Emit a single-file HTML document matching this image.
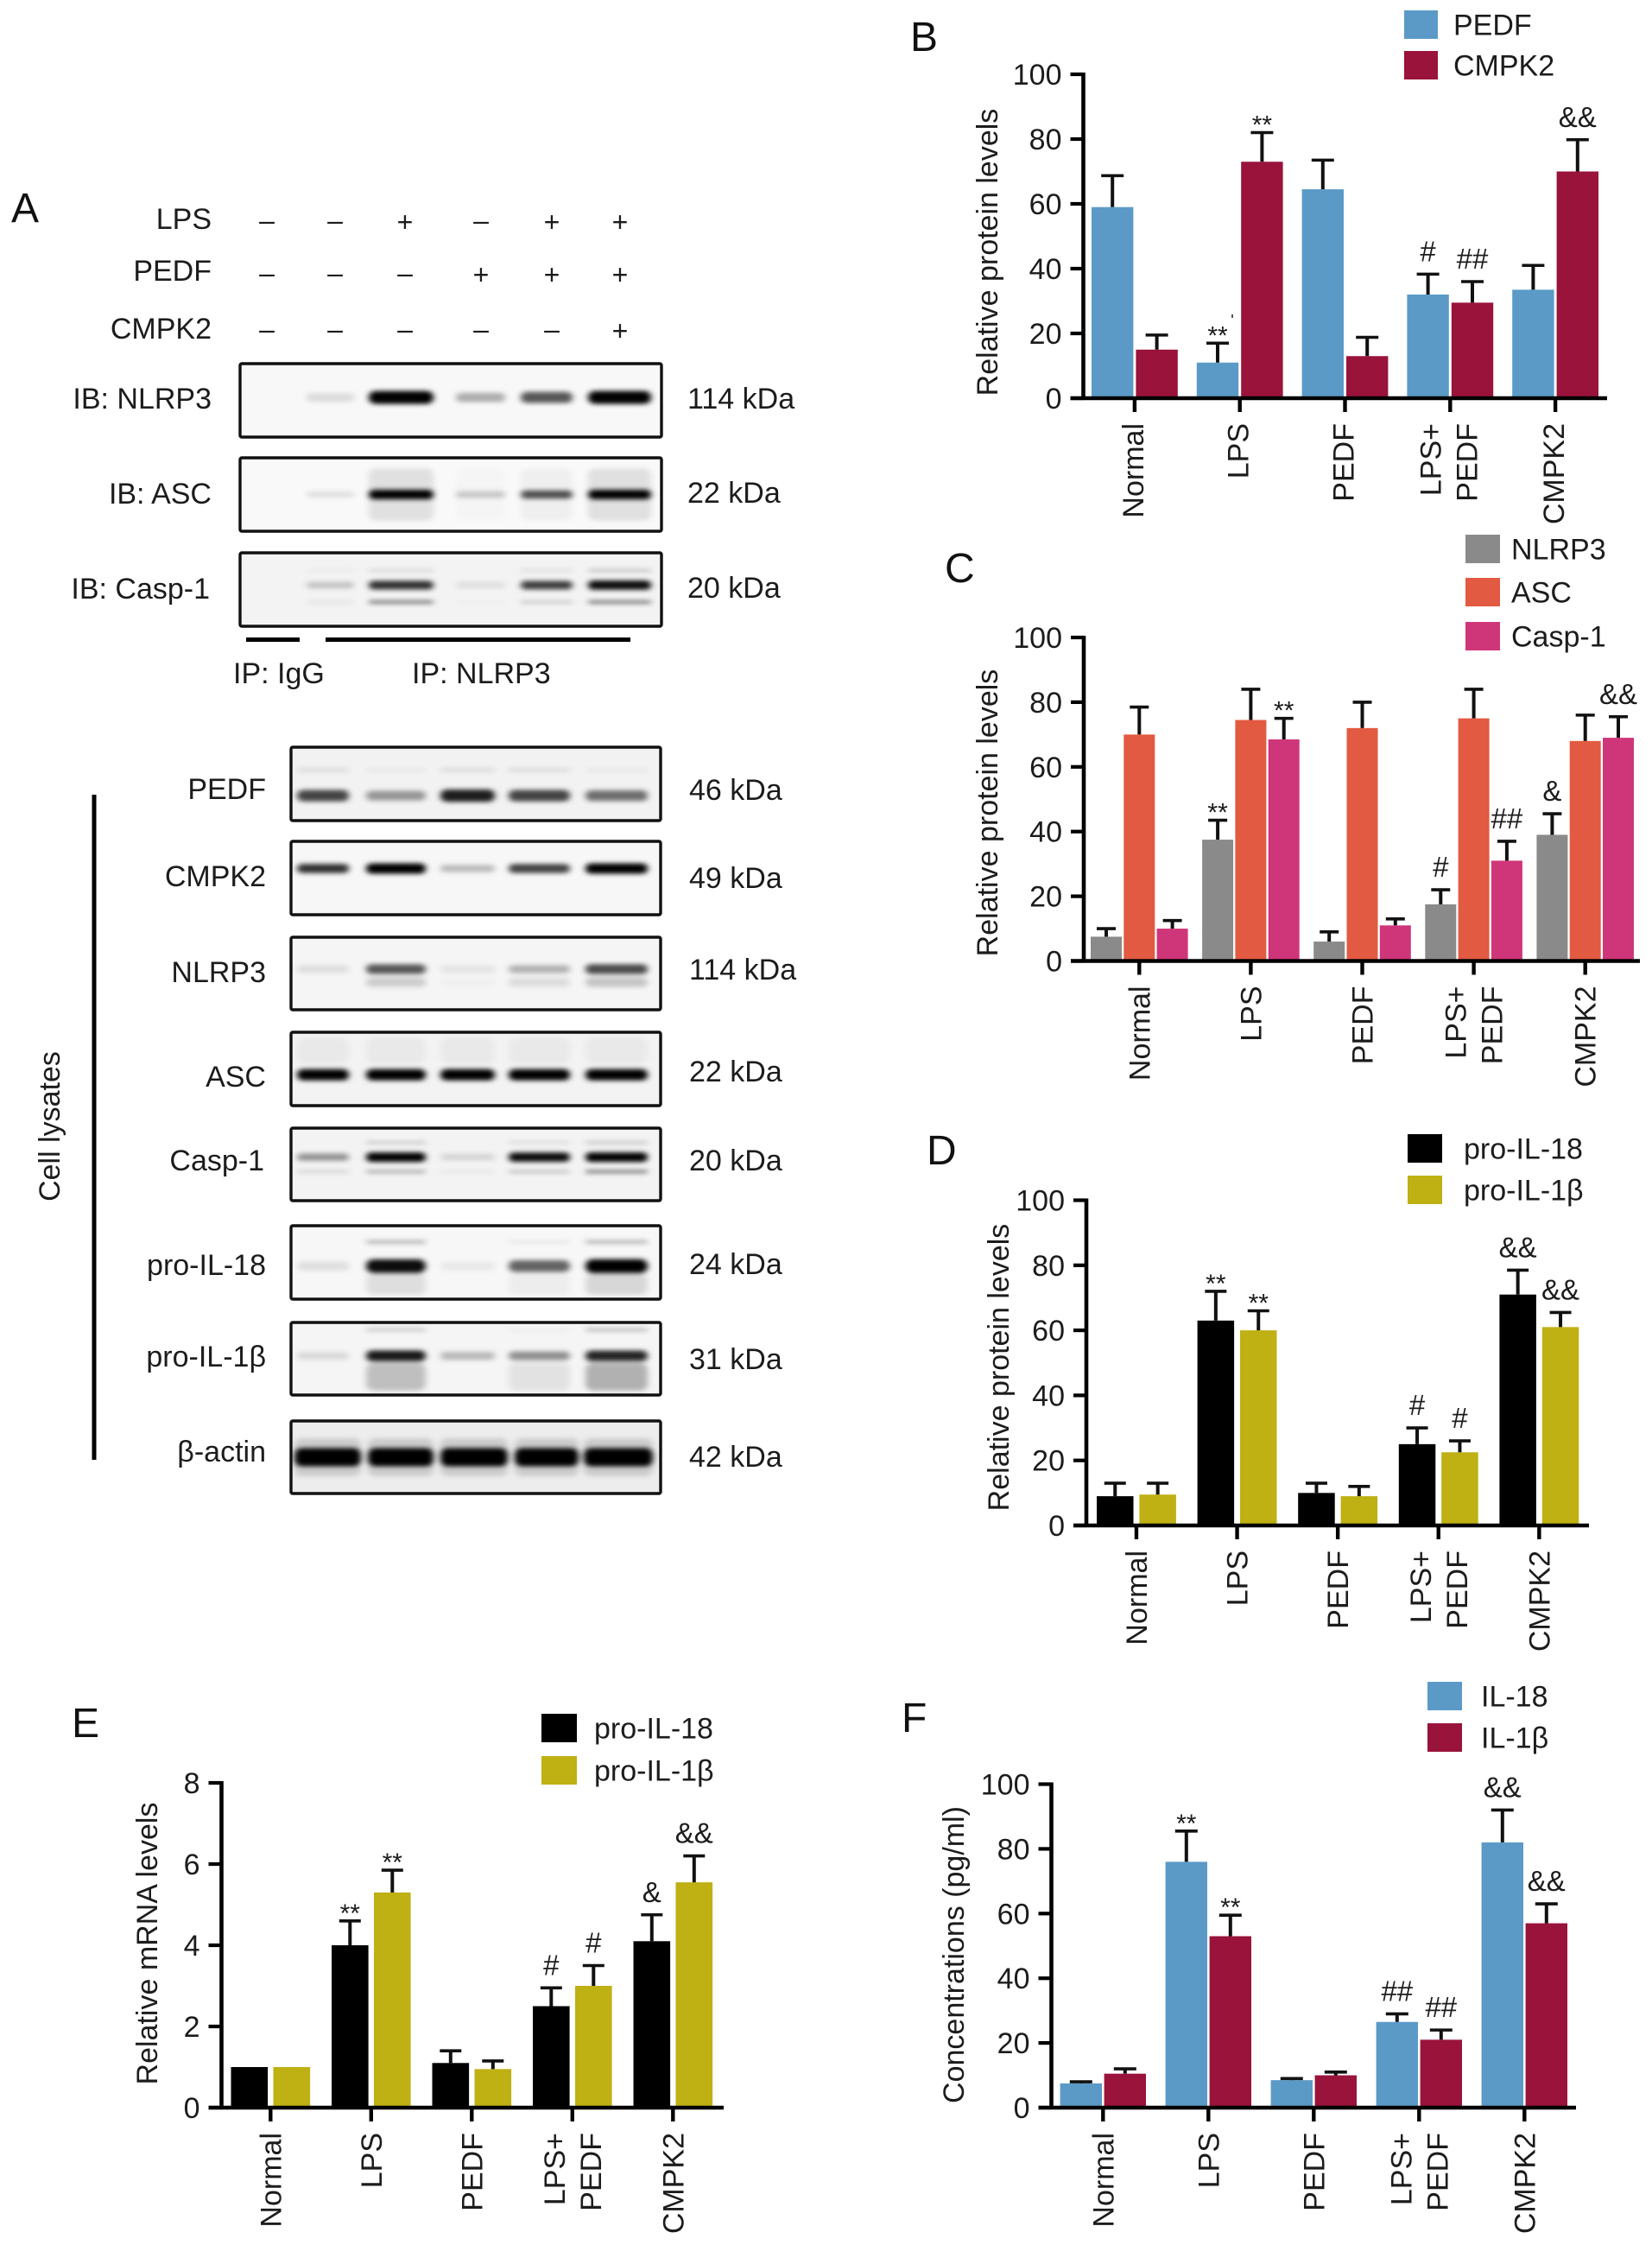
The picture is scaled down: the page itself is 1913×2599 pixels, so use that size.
<!DOCTYPE html>
<html lang="en">
<head>
<meta charset="utf-8">
<title>PEDF CMPK2 NLRP3 figure</title>
<style>
html,body{margin:0;padding:0;background:#fff;}
svg#figure{display:block;position:absolute;left:0;top:0;}
text{font-family:"Liberation Sans","DejaVu Sans",sans-serif;fill:#1c1c1c;}
.lab{font-size:34px;}
.letter{font-size:48px;fill:#111;}
</style>
</head>
<body>
<svg id="figure" xmlns="http://www.w3.org/2000/svg" width="1913" height="2599" viewBox="0 0 1913 2599">
<defs>
<filter id="band-blur" x="-30%" y="-100%" width="160%" height="300%"><feGaussianBlur stdDeviation="3.6 2.6"/></filter>
</defs>
<rect width="1913" height="2599" fill="#fff"/>

<g id="panel-a">
<text class="letter" x="13" y="257">A</text>
<text class="lab" x="245" y="265" text-anchor="end">LPS</text>
<text class="lab" x="245" y="325" text-anchor="end">PEDF</text>
<text class="lab" x="245" y="392" text-anchor="end">CMPK2</text>
<g id="treatment-signs"></g>

<text class="lab" x="245" y="473" text-anchor="end">IB: NLRP3</text>
<text class="lab" x="245" y="583" text-anchor="end">IB: ASC</text>
<text class="lab" x="243" y="693" text-anchor="end">IB: Casp-1</text>
<text class="lab" x="796" y="473">114 kDa</text>
<text class="lab" x="796" y="582">22 kDa</text>
<text class="lab" x="796" y="692">20 kDa</text>

<rect x="285" y="738" width="62" height="5" fill="#000"/>
<rect x="377" y="738" width="353" height="5" fill="#000"/>
<text class="lab" x="270" y="791">IP: IgG</text>
<text class="lab" x="477" y="791">IP: NLRP3</text>

<rect x="106.500" y="920" width="5" height="770" fill="#000"/>
<text class="lab" transform="translate(69,1304) rotate(-90)" text-anchor="middle">Cell lysates</text>

<text class="lab" x="308" y="925" text-anchor="end">PEDF</text>
<text class="lab" x="308" y="1026" text-anchor="end">CMPK2</text>
<text class="lab" x="308" y="1137" text-anchor="end">NLRP3</text>
<text class="lab" x="308" y="1258" text-anchor="end">ASC</text>
<text class="lab" x="306" y="1355" text-anchor="end">Casp-1</text>
<text class="lab" x="308" y="1476" text-anchor="end">pro-IL-18</text>
<text class="lab" x="308" y="1582" text-anchor="end">pro-IL-1β</text>
<text class="lab" x="308" y="1692" text-anchor="end">β-actin</text>

<text class="lab" x="798" y="926">46 kDa</text>
<text class="lab" x="798" y="1028">49 kDa</text>
<text class="lab" x="798" y="1134">114 kDa</text>
<text class="lab" x="798" y="1252">22 kDa</text>
<text class="lab" x="798" y="1355">20 kDa</text>
<text class="lab" x="798" y="1475">24 kDa</text>
<text class="lab" x="798" y="1585">31 kDa</text>
<text class="lab" x="798" y="1698">42 kDa</text>
</g>

<g id="blots"></g>

<text class="letter" x="1054" y="59">B</text>
<text class="letter" x="1094" y="674">C</text>
<text class="letter" x="1073" y="1348">D</text>
<text class="letter" x="83" y="2011">E</text>
<text class="letter" x="1044" y="2005">F</text>
<g id="charts"></g>
<rect x="1426" y="364" width="2" height="4" fill="#555"/>
</svg>

<script>
/* ---------- chart data ---------- */
const categories = [['Normal'], ['LPS'], ['PEDF'], ['LPS+', 'PEDF'], ['CMPK2']];
const percentTicks = [0, 20, 40, 60, 80, 100];
const mrnaTicks = [0, 2, 4, 6, 8];

const bPedf = [59, 11, 64.5, 32, 33.5];
const bPedfErr = [68.7, 17, 73.5, 38.3, 41];
const bPedfMarks = ['', '**', '', '#', ''];
const bCmpk2 = [15, 73, 13, 29.5, 70];
const bCmpk2Err = [19.5, 82, 18.8, 36, 79.8];
const bCmpk2Marks = ['', '**', '', '##', '&&'];

const cNlrp3 = [7.5, 37.5, 6, 17.5, 39];
const cNlrp3Err = [10, 43.5, 9, 22, 45.5];
const cNlrp3Marks = ['', '**', '', '#', '&'];
const cAsc = [70, 74.5, 72, 75, 68];
const cAscErr = [78.5, 84, 80, 84, 76];
const cAscMarks = ['', '', '', '', ''];
const cCasp = [10, 68.5, 11, 31, 69];
const cCaspErr = [12.5, 75, 13, 37, 75.5];
const cCaspMarks = ['', '**', '', '##', '&&'];

const dIl18 = [9, 63, 10, 25, 71];
const dIl18Err = [13, 72, 13, 30, 78.5];
const dIl18Marks = ['', '**', '', '#', '&&'];
const dIl1b = [9.5, 60, 9, 22.5, 61];
const dIl1bErr = [13, 66, 12, 26, 65.5];
const dIl1bMarks = ['', '**', '', '#', '&&'];

const eIl18 = [1, 4, 1.1, 2.5, 4.1];
const eIl18Err = [1, 4.6, 1.4, 2.95, 4.75];
const eIl18Marks = ['', '**', '', '#', '&'];
const eIl1b = [1, 5.3, 0.95, 3, 5.55];
const eIl1bErr = [1, 5.85, 1.15, 3.5, 6.2];
const eIl1bMarks = ['', '**', '', '#', '&&'];

const fIl18 = [7.5, 76, 8.5, 26.5, 82];
const fIl18Err = [8, 85.5, 9, 29, 92];
const fIl18Marks = ['', '**', '', '##', '&&'];
const fIl1b = [10.5, 53, 10, 21, 57];
const fIl1bErr = [12, 59.5, 11, 24, 63];
const fIl1bMarks = ['', '**', '', '##', '&&'];

/* ---------- blot data: band strength per lane ---------- */
const signRowLps = ['-', '-', '+', '-', '+', '+'];
const signRowPedf = ['-', '-', '-', '+', '+', '+'];
const signRowCmpk2 = ['-', '-', '-', '-', '-', '+'];

const ipNlrp3Bands = [[.46, 15, [0, .12, 1, .3, .65, 1]]];
const ipAscBands = [[.5, 60, [0, 0, .1, .015, .04, .1]], [.5, 11, [0, .1, 1, .2, .68, 1]]];
const ipCaspBands = [[.44, 11, [0, .2, .8, .09, .75, .95]], [.67, 5, [0, .06, .4, .02, .15, .4]], [.24, 4, [0, .04, .12, 0, .1, .2]]];

const lyPedfBands = [[.66, 15, [.72, .38, .88, .72, .55]], [.31, 7, [.08, .04, .08, .08, .04]]];
const lyCmpk2Bands = [[.37, 12, [.75, 1, .25, .7, 1]], [.37, 9, [.25, .95, 0, .15, .95]]];
const lyNlrp3Bands = [[.44, 13, [.1, .65, .08, .28, .7]], [.62, 16, [0, .17, .02, .1, .2]]];
const lyAscBands = [[.58, 13, [1, 1, 1, 1, 1]], [.25, 30, [.04, .04, .04, .04, .04]]];
const lyCaspBands = [[.4, 11, [.4, 1, .13, .95, 1]], [.6, 5, [.12, .25, .05, .18, .4]], [.2, 4, [0, .18, 0, .1, .2]]];
const lyIl18Bands = [[.55, 16, [.1, .95, .06, .6, 1]], [.22, 5, [0, .25, 0, .06, .25]], [.8, 24, [0, .1, 0, .04, .13]]];
const lyIl1bBands = [[.46, 13, [.12, .9, .25, .42, .85]], [.75, 32, [0, .22, 0, .08, .28]], [.1, 6, [0, .14, 0, .03, .18]]];
const lyActinBands = [[.5, 21, [1, 1, 1, 1, 1]], [.5, 44, [.14, .14, .14, .14, .14]]];

/* ---------- helpers ---------- */
const NS = 'http://www.w3.org/2000/svg';
function make(tag, attrs, parent) {
  const el = document.createElementNS(NS, tag);
  for (const k in attrs) el.setAttribute(k, attrs[k]);
  parent.appendChild(el);
  return el;
}

/* ---------- treatment signs ---------- */
const signLayer = document.getElementById('treatment-signs');
function drawSigns(row, rowName, y, columns) {
  row.forEach(function (sign, i) {
    const t = make('text', { x: columns[i], y: y + (sign === '+' ? 11 : 9), 'text-anchor': 'middle', 'font-size': 32 }, signLayer);
    
    
    t.textContent = sign === '+' ? '+' : '–';
  });
}
const signColumns = [309, 388, 469, 557, 639, 718];
drawSigns(signRowLps, 'lps', 257, signColumns);
drawSigns(signRowPedf, 'pedf', 318, signColumns);
drawSigns(signRowCmpk2, 'cmpk2', 383, signColumns);

/* ---------- blots ---------- */
const blotLayer = document.getElementById('blots');
function drawBlot(name, box, bands, lanes, bg) {
  const group = make('g', {}, blotLayer);
  
  
  const inner = make('svg', { x: box[0], y: box[1], width: box[2], height: box[3], overflow: 'hidden' }, group);
  make('rect', { width: box[2], height: box[3], fill: bg }, inner);
  const blurred = make('g', { filter: 'url(#band-blur)' }, inner);
  bands.forEach(function (band) {
    band[2].forEach(function (strength, i) {
      if (!strength) return;
      const lane = lanes[i];
      const h = band[1] * (band[1] > 20 ? 1 : (.6 + .4 * strength));
      const r = make('rect', {
        x: lane[0] - box[0], y: band[0] * box[3] - h / 2,
        width: lane[1] - lane[0], height: h, rx: Math.min(h / 2, 8),
        fill: '#000', opacity: Math.min(1, strength * (band[1] > 8 ? 1 : 1.3))
      }, blurred);
      
      
    });
  });
  const frame = make('rect', { x: box[0], y: box[1], width: box[2], height: box[3], rx: 2, fill: 'none', stroke: '#111', 'stroke-width': 3.4 }, group);
  
  
}
const ipLanes = [[285, 345], [355, 410], [427, 502], [528, 585], [603, 663], [681, 754]];
const lyLanes = [[344, 404], [424, 493], [510, 573], [589, 660], [678, 750]];
const actinLanes = [[341, 418], [426, 502], [510, 588], [596, 670], [676, 756]];
drawBlot('ip-nlrp3', [278, 421, 488, 85], ipNlrp3Bands, ipLanes, '#f8f8f8');
drawBlot('ip-asc', [278, 530, 488, 85], ipAscBands, ipLanes, '#f9f9f9');
drawBlot('ip-casp1', [278, 640, 488, 85], ipCaspBands, ipLanes, '#f3f3f3');
drawBlot('lysate-pedf', [337, 865, 428, 85], lyPedfBands, lyLanes, '#f2f2f2');
drawBlot('lysate-cmpk2', [337, 974, 428, 85], lyCmpk2Bands, lyLanes, '#f7f7f7');
drawBlot('lysate-nlrp3', [337, 1085, 428, 84], lyNlrp3Bands, lyLanes, '#f5f5f5');
drawBlot('lysate-asc', [337, 1195, 428, 85], lyAscBands, lyLanes, '#f3f3f3');
drawBlot('lysate-casp1', [337, 1306, 428, 84], lyCaspBands, lyLanes, '#f3f3f3');
drawBlot('lysate-pro-il18', [337, 1419, 428, 85], lyIl18Bands, lyLanes, '#f7f7f7');
drawBlot('lysate-pro-il1b', [337, 1531, 428, 84], lyIl1bBands, lyLanes, '#f5f5f5');
drawBlot('lysate-beta-actin', [337, 1645, 428, 84], lyActinBands, actinLanes, '#ededed');

/* ---------- charts ---------- */
const chartLayer = document.getElementById('charts');
function drawChart(cfg) {
  const g = make('g', {}, chartLayer);
  
  

  const yScale = function (v) { return cfg.y0 - (v / cfg.yMax) * (cfg.y0 - cfg.yTop); };
  const barX = function (groupIndex, seriesIndex) { return cfg.firstBar + groupIndex * cfg.step + seriesIndex * cfg.pitch; };
  const groupCenter = function (groupIndex) {
    return barX(groupIndex, 0) + ((cfg.series.length - 1) * cfg.pitch + cfg.barW) / 2;
  };

  cfg.series.forEach(function (s, si) {
    s.values.forEach(function (v, gi) {
      const x = barX(gi, si);
      const bar = make('rect', { x: x, y: yScale(v), width: cfg.barW, height: cfg.y0 - yScale(v), fill: s.color }, g);
      
      

      const cx = x + cfg.barW / 2;
      const top = yScale(s.err[gi]);
      if (s.err[gi] > v) {
        const stem = make('line', { x1: cx, x2: cx, y1: yScale(v), y2: top, stroke: '#111', 'stroke-width': 4 }, g);
        
        
        const cap = make('line', { x1: cx - cfg.capW / 2, x2: cx + cfg.capW / 2, y1: top, y2: top, stroke: '#111', 'stroke-width': 3.6 }, g);
        
        
      }
      const mark = s.marks[gi];
      if (mark) {
        const star = mark.charAt(0) === '*';
        const t = make('text', { x: cx, y: top + (star ? 1 : -15), 'text-anchor': 'middle', 'font-size': star ? 30 : 33 }, g);
        
        
        t.textContent = mark;
      }
    });
  });

  const yAxis = make('line', { x1: cfg.x0, x2: cfg.x0, y1: cfg.yTop - 2, y2: cfg.y0 + 2, stroke: '#000', 'stroke-width': 4.6 }, g);
  
  
  const xAxis = make('line', { x1: cfg.x0 - 15, x2: cfg.xEnd, y1: cfg.y0, y2: cfg.y0, stroke: '#000', 'stroke-width': 4.4 }, g);
  
  

  cfg.ticks.forEach(function (tick) {
    const y = yScale(tick);
    const line = make('line', { x1: cfg.x0 - 15, x2: cfg.x0, y1: y, y2: y, stroke: '#000', 'stroke-width': 4.2 }, g);
    
    
    const label = make('text', { x: cfg.x0 - 25, y: y + 12, 'text-anchor': 'end', 'font-size': 34 }, g);
    
    
    label.textContent = tick;
  });

  categories.forEach(function (lines, gi) {
    const cx = groupCenter(gi);
    const tick = make('line', { x1: cx, x2: cx, y1: cfg.y0, y2: cfg.y0 + 16, stroke: '#000', 'stroke-width': 4.4 }, g);
    
    
    lines.forEach(function (line, li) {
      const offset = lines.length > 1 ? (li === 0 ? -21 : 21) : 0;
      const bx = cx + offset + 12 + (cfg.labelShift || 0);
      const by = cfg.y0 + 29;
      const label = make('text', { transform: 'translate(' + bx + ',' + by + ') rotate(-90)', 'text-anchor': 'end', 'font-size': 34 }, g);
      
      
      label.textContent = line;
    });
  });

  const title = make('text', { transform: 'translate(' + cfg.titleX + ',' + cfg.titleY + ') rotate(-90)', 'text-anchor': 'middle', 'font-size': 34 }, g);
  
  
  title.textContent = cfg.title;

  cfg.series.forEach(function (s, si) {
    const y = cfg.legend.ys[si];
    const swatch = make('rect', { x: cfg.legend.x, y: y, width: cfg.legend.w, height: cfg.legend.h, fill: s.color }, g);
    
    
    const text = make('text', { x: cfg.legend.textX, y: y + cfg.legend.h / 2 + 12, 'font-size': 34 }, g);
    
    
    text.textContent = s.label;
  });
}

const BLUE = '#5b9ac7', CRIMSON = '#99133b', GREY = '#8a8a8a', ORANGE = '#e25a41', PINK = '#cf3679', BLACK = '#000', OLIVE = '#bfb013';

drawChart({
  name: 'chart-b', x0: 1254.5, xEnd: 1861, y0: 461, yTop: 86, yMax: 100, ticks: percentTicks,
  firstBar: 1264, step: 121.8, barW: 48.4, pitch: 51.4, capW: 26, labelShift: -2,
  title: 'Relative protein levels', titleX: 1155, titleY: 292,
  legend: { x: 1626, w: 39, h: 33, textX: 1683, ys: [12, 59] },
  series: [
    { label: 'PEDF', color: BLUE, values: bPedf, err: bPedfErr, marks: bPedfMarks },
    { label: 'CMPK2', color: CRIMSON, values: bCmpk2, err: bCmpk2Err, marks: bCmpk2Marks }
  ]
});
drawChart({
  name: 'chart-c', x0: 1255, xEnd: 1899, y0: 1112.5, yTop: 738, yMax: 100, ticks: percentTicks,
  firstBar: 1263, step: 129.1, barW: 36, pitch: 38.3, capW: 22,
  title: 'Relative protein levels', titleX: 1155, titleY: 941,
  legend: { x: 1697, w: 40, h: 33, textX: 1750, ys: [619, 669, 720] },
  series: [
    { label: 'NLRP3', color: GREY, values: cNlrp3, err: cNlrp3Err, marks: cNlrp3Marks },
    { label: 'ASC', color: ORANGE, values: cAsc, err: cAscErr, marks: cAscMarks },
    { label: 'Casp-1', color: PINK, values: cCasp, err: cCaspErr, marks: cCaspMarks }
  ]
});
drawChart({
  name: 'chart-d', x0: 1258, xEnd: 1840, y0: 1766, yTop: 1389.5, yMax: 100, ticks: percentTicks,
  firstBar: 1270, step: 116.6, barW: 42.5, pitch: 49.4, capW: 25,
  title: 'Relative protein levels', titleX: 1168, titleY: 1583,
  legend: { x: 1630, w: 40, h: 33, textX: 1695, ys: [1313, 1361] },
  series: [
    { label: 'pro-IL-18', color: BLACK, values: dIl18, err: dIl18Err, marks: dIl18Marks },
    { label: 'pro-IL-1β', color: OLIVE, values: dIl1b, err: dIl1bErr, marks: dIl1bMarks }
  ]
});
drawChart({
  name: 'chart-e', x0: 256.5, xEnd: 838, y0: 2440, yTop: 2064, yMax: 8, ticks: mrnaTicks,
  firstBar: 267.5, step: 116.5, barW: 42.6, pitch: 49, capW: 25,
  title: 'Relative mRNA levels', titleX: 182, titleY: 2250,
  legend: { x: 627, w: 41, h: 33, textX: 688, ys: [1984, 2033] },
  series: [
    { label: 'pro-IL-18', color: BLACK, values: eIl18, err: eIl18Err, marks: eIl18Marks },
    { label: 'pro-IL-1β', color: OLIVE, values: eIl1b, err: eIl1bErr, marks: eIl1bMarks }
  ]
});
drawChart({
  name: 'chart-f', x0: 1217.5, xEnd: 1825, y0: 2440, yTop: 2065.5, yMax: 100, ticks: percentTicks,
  firstBar: 1227.6, step: 122, barW: 48.4, pitch: 51, capW: 26,
  title: 'Concentrations (pg/ml)', titleX: 1116, titleY: 2263,
  legend: { x: 1653, w: 40, h: 33, textX: 1715, ys: [1947, 1995] },
  series: [
    { label: 'IL-18', color: BLUE, values: fIl18, err: fIl18Err, marks: fIl18Marks },
    { label: 'IL-1β', color: CRIMSON, values: fIl1b, err: fIl1bErr, marks: fIl1bMarks }
  ]
});
</script>
</body>
</html>
